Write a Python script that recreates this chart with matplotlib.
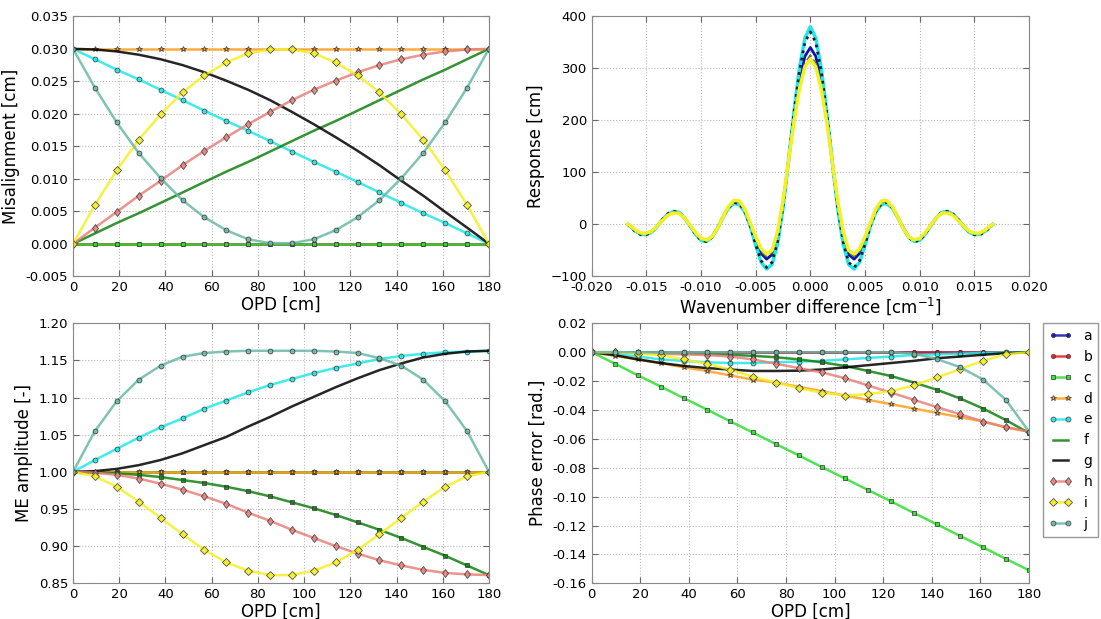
import matplotlib
matplotlib.use("Agg")
import matplotlib.pyplot as plt
from matplotlib.ticker import FormatStrFormatter

# OPD sample positions [cm]
opd = [0, 9.5, 18.9, 28.4, 37.9, 47.4, 56.8, 66.3, 75.8, 85.3,
       94.7, 104.2, 113.7, 123.2, 132.6, 142.1, 151.6, 161.1, 170.5, 180]

labels = ["a", "b", "c", "d", "e", "f", "g", "h", "i", "j"]

# misalignment [cm]
mis_a = [0.0] * 20
mis_b = [0.0] * 20
mis_c = [0.0] * 20
mis_d = [0.03] * 20
mis_e = [0.0300, 0.0284, 0.0268, 0.0253, 0.0237, 0.0221, 0.0205, 0.0189, 0.0174, 0.0158,
         0.0142, 0.0126, 0.0111, 0.0095, 0.0079, 0.0063, 0.0047, 0.0032, 0.0016, 0.0]
mis_f = [0.0, 0.0016, 0.0032, 0.0047, 0.0063, 0.0079, 0.0095, 0.0111, 0.0126, 0.0142,
         0.0158, 0.0174, 0.0189, 0.0205, 0.0221, 0.0237, 0.0253, 0.0268, 0.0284, 0.0300]
mis_g = [0.0300, 0.0299, 0.0296, 0.0291, 0.0284, 0.0275, 0.0264, 0.0251, 0.0237, 0.0221,
         0.0203, 0.0184, 0.0164, 0.0143, 0.0121, 0.0097, 0.0074, 0.0049, 0.0025, 0.0]
mis_h = [0.0, 0.0025, 0.0049, 0.0074, 0.0097, 0.0121, 0.0143, 0.0164, 0.0184, 0.0203,
         0.0221, 0.0237, 0.0251, 0.0264, 0.0275, 0.0284, 0.0291, 0.0296, 0.0299, 0.0300]
mis_i = [0.0, 0.0060, 0.0113, 0.0160, 0.0199, 0.0233, 0.0259, 0.0279, 0.0293, 0.0299,
         0.0299, 0.0293, 0.0279, 0.0259, 0.0233, 0.0199, 0.0160, 0.0113, 0.0060, 0.0]
mis_j = [0.0300, 0.0240, 0.0187, 0.0140, 0.0101, 0.0067, 0.0041, 0.0021, 0.0007, 0.0001,
         0.0001, 0.0007, 0.0021, 0.0041, 0.0067, 0.0101, 0.0140, 0.0187, 0.0240, 0.0300]

# ME amplitude [-]
amp_a = [1.0] * 20
amp_b = [1.0] * 20
amp_c = [1.0] * 20
amp_d = [1.0] * 20
amp_e = [1.000, 1.016, 1.031, 1.046, 1.060, 1.072, 1.085, 1.096, 1.107, 1.117,
         1.125, 1.133, 1.140, 1.146, 1.152, 1.156, 1.159, 1.161, 1.162, 1.163]
amp_f = [1.000, 0.9995, 0.998, 0.996, 0.993, 0.989, 0.985, 0.980, 0.974, 0.967,
         0.959, 0.951, 0.942, 0.932, 0.922, 0.911, 0.899, 0.887, 0.874, 0.861]
amp_g = [1.000, 1.001, 1.004, 1.009, 1.016, 1.025, 1.036, 1.047, 1.061, 1.074,
         1.088, 1.101, 1.114, 1.126, 1.137, 1.146, 1.154, 1.159, 1.162, 1.163]
amp_h = [1.000, 0.999, 0.996, 0.991, 0.984, 0.976, 0.967, 0.957, 0.945, 0.934,
         0.922, 0.911, 0.900, 0.890, 0.881, 0.874, 0.868, 0.864, 0.862, 0.861]
amp_i = [1.000, 0.994, 0.980, 0.960, 0.938, 0.916, 0.895, 0.878, 0.867, 0.861,
         0.861, 0.867, 0.878, 0.895, 0.916, 0.938, 0.960, 0.980, 0.994, 1.000]
amp_j = [1.000, 1.055, 1.095, 1.124, 1.143, 1.155, 1.160, 1.162, 1.163, 1.163,
         1.163, 1.163, 1.162, 1.160, 1.153, 1.143, 1.124, 1.095, 1.055, 1.000]

# phase error [rad.]
ph_a = [0.0] * 20
ph_b = [0.0] * 20
ph_c = [0.0, -0.0079, -0.0159, -0.0238, -0.0318, -0.0397, -0.0477, -0.0556, -0.0636, -0.0715,
        -0.0795, -0.0874, -0.0954, -0.1033, -0.1113, -0.1192, -0.1272, -0.1351, -0.1431, -0.1510]
ph_d = [0.0, -0.0025, -0.005, -0.0075, -0.0105, -0.013, -0.016, -0.019, -0.021, -0.024,
        -0.027, -0.030, -0.033, -0.036, -0.039, -0.042, -0.045, -0.048, -0.052, -0.055]
ph_e = [0.0, -0.001, -0.003, -0.005, -0.006, -0.007, -0.0075, -0.0075, -0.007, -0.0065,
        -0.006, -0.005, -0.004, -0.003, -0.002, -0.0015, -0.001, -0.0005, -0.0002, 0.0]
ph_f = [0.0, 0.0, -0.0002, -0.0005, -0.0008, -0.0012, -0.0018, -0.0025, -0.0035, -0.005,
        -0.007, -0.0095, -0.013, -0.0165, -0.021, -0.026, -0.032, -0.039, -0.047, -0.056]
ph_g = [0.0, -0.002, -0.005, -0.0075, -0.0095, -0.011, -0.012, -0.013, -0.013, -0.0128,
        -0.012, -0.0105, -0.009, -0.0075, -0.006, -0.0042, -0.003, -0.0018, -0.0007, 0.0]
ph_h = [0.0, -0.0002, -0.0005, -0.001, -0.0015, -0.002, -0.003, -0.005, -0.008, -0.011,
        -0.014, -0.018, -0.023, -0.028, -0.033, -0.038, -0.043, -0.048, -0.052, -0.055]
ph_i = [0.0, 0.0, -0.001, -0.002, -0.005, -0.008, -0.012, -0.017, -0.021, -0.025,
        -0.028, -0.030, -0.029, -0.027, -0.023, -0.0175, -0.0117, -0.006, -0.0014, 0.0]
ph_j = [0.0, 0.0, 0.0, 0.0, 0.0, 0.0, 0.0, 0.0, 0.0, 0.0,
        0.0, 0.0, 0.0, 0.0, -0.001, -0.0048, -0.0103, -0.019, -0.033, -0.055]

# response vs wavenumber difference, read for the positive half (curves are symmetric)
wn_half = [0.0, 0.0005, 0.001, 0.0015, 0.002, 0.0025, 0.003, 0.0035, 0.004, 0.0045,
           0.005, 0.0055, 0.006, 0.0065, 0.007, 0.0075, 0.008, 0.0085, 0.009, 0.0095,
           0.01, 0.0105, 0.011, 0.0115, 0.012, 0.0125, 0.013, 0.0135, 0.014, 0.0145,
           0.015, 0.0155, 0.016, 0.0165, 0.0167]
resp_a_half = [340, 323, 275, 204, 121, 41, -21, -58, -67, -56, -31, -1, 26, 42, 43, 33, 14, -7,
               -24, -31, -29, -18, -3, 12, 22, 24, 20, 10, -3, -14, -19, -19, -13, -3, 0]
resp_e_half = [380, 358, 300, 216, 121, 31, -38, -77, -86, -73, -40, -3, 24, 38, 40, 31, 13, -8,
               -25, -33, -31, -19, -3, 12, 23, 25, 20, 9, -4, -15, -20, -19, -13, -3, 0]
resp_f_half = [325, 309, 264, 198, 120, 43, -18, -54, -62, -52, -28, 0, 27, 43, 44, 33, 14, -7,
               -23, -30, -28, -18, -3, 11, 21, 23, 19, 9, -3, -13, -18, -18, -12, -3, 0]
resp_g_half = [370, 350, 294, 214, 122, 34, -33, -73, -83, -70, -39, -3, 25, 40, 42, 32, 14, -7,
               -25, -33, -31, -19, -3, 12, 23, 25, 21, 10, -3, -14, -20, -20, -14, -4, 0]
resp_i_half = [318, 303, 260, 196, 121, 46, -14, -50, -57, -47, -24, 3, 30, 45, 46, 34, 14, -8,
               -24, -30, -27, -16, -2, 12, 21, 22, 18, 8, -3, -13, -17, -17, -11, -2, 0]


def mirror_x(half):
    return [-v for v in half[:0:-1]] + half


def mirror_y(half):
    return half[:0:-1] + half


colors = {"a": "#1010b0", "b": "#e02020", "c": "#33dd33", "d": "#ffa020", "e": "#20e8e8",
          "f": "#108010", "g": "#000000", "h": "#e8807a", "i": "#f5f020", "j": "#6ab8a6"}
markers = {"a": ("o", 3), "b": ("o", 3), "c": ("s", 3), "d": ("*", 4), "e": ("o", 3.5),
           "f": (None, 0), "g": (None, 0), "h": ("d", 4.5), "i": ("D", 4.5), "j": ("o", 3.5)}

plt.rcParams["font.family"] = "DejaVu Sans"
fig = plt.figure(figsize=(11.01, 6.19), dpi=100)

ax_tl = fig.add_axes([0.0663, 0.5536, 0.3778, 0.420])
ax_tr = fig.add_axes([0.5374, 0.5536, 0.3972, 0.420])
ax_bl = fig.add_axes([0.0663, 0.0577, 0.3778, 0.420])
ax_br = fig.add_axes([0.5374, 0.0577, 0.3972, 0.420])


def draw_set(ax, series, f_marker=False):
    handles = []
    for lab, ys in zip(labels, series):
        m, ms = markers[lab]
        if lab == "f" and f_marker:
            m, ms = "s", 3
        ln, = ax.plot(opd, ys, color=colors[lab], lw=1.8, marker=m, ms=ms,
                      mec="#333333", mew=0.6, alpha=0.85, label=lab)
        handles.append(ln)
    return handles


handles = draw_set(ax_tl, [mis_a, mis_b, mis_c, mis_d, mis_e, mis_f, mis_g, mis_h, mis_i, mis_j])
draw_set(ax_bl, [amp_a, amp_b, amp_c, amp_d, amp_e, amp_f, amp_g, amp_h, amp_i, amp_j], True)
draw_set(ax_br, [ph_a, ph_b, ph_c, ph_d, ph_e, ph_f, ph_g, ph_h, ph_i, ph_j], True)

wn = mirror_x(wn_half)
ax_tr.plot(wn, mirror_y(resp_a_half), color=colors["a"], lw=2)
ax_tr.plot(wn, mirror_y(resp_e_half), color=colors["e"], lw=2.5)
ax_tr.plot(wn, mirror_y(resp_f_half), color="#507050", lw=1.5, ls="--")
ax_tr.plot(wn, mirror_y(resp_g_half), color="#102030", lw=2, ls=":")
ax_tr.plot(wn, mirror_y(resp_i_half), color=colors["i"], lw=2.5)

for ax in (ax_tl, ax_tr, ax_bl, ax_br):
    ax.grid(True, color="#b8b8b8", ls=":", lw=0.8)
    ax.tick_params(direction="in", top=True, right=True, labelsize=9.5, length=4, color="#666666")
    for sp in ax.spines.values():
        sp.set_color("#888888")

for ax in (ax_tl, ax_bl, ax_br):
    ax.set_xlim(0, 180)
    ax.set_xticks(range(0, 181, 20))
    ax.set_xlabel("OPD [cm]", fontsize=12, labelpad=1)

ax_tl.set_ylim(-0.005, 0.035)
ax_tl.set_yticks([-0.005, 0.0, 0.005, 0.01, 0.015, 0.02, 0.025, 0.03, 0.035])
ax_tl.yaxis.set_major_formatter(FormatStrFormatter("%.3f"))
ax_tl.set_ylabel("Misalignment [cm]", fontsize=12)

ax_tr.set_xlim(-0.02, 0.02)
ax_tr.set_ylim(-100, 400)
ax_tr.set_xticks([-0.02, -0.015, -0.01, -0.005, 0.0, 0.005, 0.01, 0.015, 0.02])
ax_tr.xaxis.set_major_formatter(FormatStrFormatter("%.3f"))
ax_tr.set_xlabel("Wavenumber difference [cm$^{-1}$]", fontsize=12, labelpad=1)
ax_tr.set_ylabel("Response [cm]", fontsize=12)

ax_bl.set_ylim(0.85, 1.20)
ax_bl.set_yticks([0.85, 0.9, 0.95, 1.0, 1.05, 1.1, 1.15, 1.2])
ax_bl.yaxis.set_major_formatter(FormatStrFormatter("%.2f"))
ax_bl.set_ylabel("ME amplitude [-]", fontsize=12)

ax_br.set_ylim(-0.16, 0.02)
ax_br.set_yticks([-0.16, -0.14, -0.12, -0.1, -0.08, -0.06, -0.04, -0.02, 0.0, 0.02])
ax_br.yaxis.set_major_formatter(FormatStrFormatter("%.2f"))
ax_br.set_ylabel("Phase error [rad.]", fontsize=12)

leg = fig.legend(handles, labels, loc="upper left", bbox_to_anchor=(0.9473, 0.478),
                 borderaxespad=0, fontsize=10, numpoints=2, handlelength=1.7,
                 fancybox=False, framealpha=1)
leg.get_frame().set_edgecolor("#999999")

fig.savefig("out.png", dpi=100)
